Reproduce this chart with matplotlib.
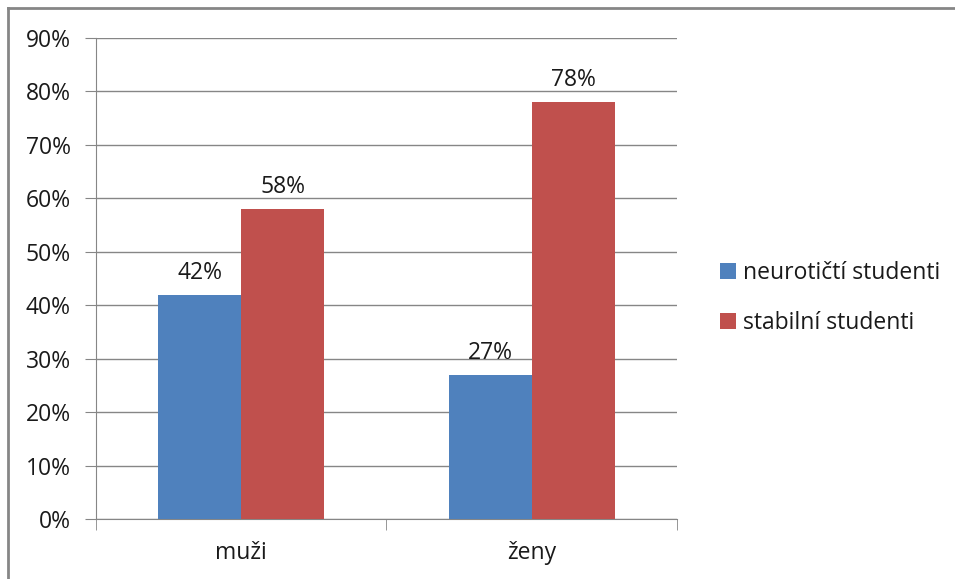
import matplotlib.pyplot as plt
from matplotlib.lines import Line2D
import numpy as np

plt.rcParams['font.family'] = ['Open Sans', 'DejaVu Sans']

# Data
categories = ["muži", "ženy"]
series_names = ["neurotičtí studenti", "stabilní studenti"]
neuroticti = [0.42, 0.27]
stabilni = [0.58, 0.78]
colors = ["#4f81bd", "#c0504d"]

fig = plt.figure(figsize=(9.55, 5.79), dpi=100)
ax = fig.add_axes([0.1005, 0.1036, 0.6084, 0.8307])

x = np.arange(len(categories))
w = 0.285
b1 = ax.bar(x - w / 2, neuroticti, w, color=colors[0], label=series_names[0], zorder=3)
b2 = ax.bar(x + w / 2, stabilni, w, color=colors[1], label=series_names[1], zorder=3)

for bars in (b1, b2):
    for rect in bars:
        h = rect.get_height()
        ax.annotate(f"{h * 100:.0f}%", (rect.get_x() + rect.get_width() / 2, h),
                    xytext=(0, 7), textcoords="offset points",
                    ha="center", va="bottom", fontsize=16.5, color="#1a1a1a")

ax.set_ylim(0, 0.9)
ax.set_yticks(np.arange(0, 0.91, 0.1))
ax.set_yticklabels([f"{v}%" for v in range(0, 91, 10)])
ax.set_xlim(-0.5, 1.5)
ax.set_xticks(x)
ax.set_xticklabels(categories)
ax.set_xticks([-0.5, 0.5, 1.5], minor=True)
ax.tick_params(axis="x", which="major", length=0, pad=16, labelsize=16.5, labelcolor="#1a1a1a")
ax.tick_params(axis="x", which="minor", length=8, color="#868686")
ax.tick_params(axis="y", length=8, color="#868686", pad=10, labelsize=16.5, labelcolor="#1a1a1a")

ax.yaxis.grid(True, color="#868686", linewidth=1)
ax.set_axisbelow(True)
for s in ("top", "right"):
    ax.spines[s].set_visible(False)
for s in ("left", "bottom"):
    ax.spines[s].set_color("#868686")

leg = fig.legend(handles=[b1, b2], loc="center left", bbox_to_anchor=(0.7544, 0.485),
                 frameon=False, fontsize=16.5, handlelength=0.7, handleheight=0.7,
                 handletextpad=0.3, labelspacing=1.15, borderpad=0, borderaxespad=0)
for t in leg.get_texts():
    t.set_color("#1a1a1a")

# outer chart border (left and top visible)
fig.add_artist(Line2D([0.0089, 0.0089], [0, 0.9862], transform=fig.transFigure,
                      color="#868686", linewidth=2))
fig.add_artist(Line2D([0.0089, 1], [0.9862, 0.9862], transform=fig.transFigure,
                      color="#868686", linewidth=2))

fig.savefig("out.png", dpi=100)
